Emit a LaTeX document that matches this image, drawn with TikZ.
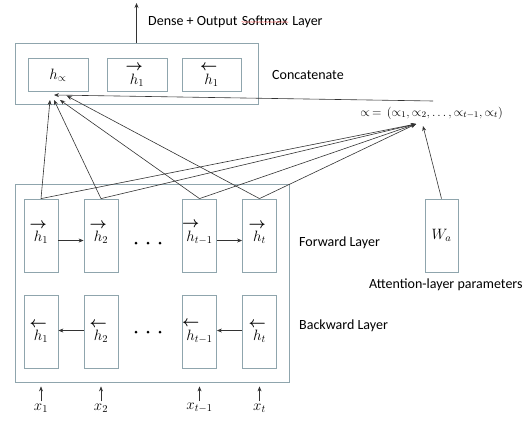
\RequirePackage{fix-cm}
\documentclass[tikz,border=0pt]{standalone}
\usepackage{amsmath}
\usepackage{fontspec}
\setmainfont{Carlito}
\usetikzlibrary{arrows.meta,calc,decorations.pathmorphing}
\newcommand\fh{\overset{\makebox[0pt]{$\boldsymbol{\rightarrow}$}}{h}}
\newcommand\bh{\overset{\makebox[0pt]{$\boldsymbol{\leftarrow}$}}{h}}
\definecolor{boxc}{HTML}{8FA5AD}
\definecolor{linec}{HTML}{333333}
\begin{document}
\begin{tikzpicture}[x=1pt,y=-1pt,
  box/.style={draw=boxc, line width=0.8pt, inner sep=0pt, font=\fontsize{15}{18}\selectfont},
  lbl/.style={font=\fontsize{14}{16}\selectfont, inner sep=0pt, anchor=west},
  mlbl/.style={font=\fontsize{15}{18}\selectfont, inner sep=0pt},
  con/.style={draw=linec, line width=0.6pt},
  arr/.style={con, -{Stealth[length=5pt,width=4pt]}}]
\useasboundingbox (0,0) rectangle (532,421);

% concatenate block
\node[box, minimum width=243, minimum height=61] (ctop) at (136.5,73.5) {};
\node[box, minimum width=60, minimum height=33] (ha) at (58,75) {$h_{\propto}$};
\node[box, minimum width=60, minimum height=33] (hf) at (137,75) {$\fh_{1}$};
\node[box, minimum width=59, minimum height=33] (hb) at (211.5,75) {$\bh_{1}$};

\node[lbl, anchor=base west] (dense) at (148,25) {Dense + Output};
\node[lbl, anchor=base west] (soft) at ([xshift=3.8pt]dense.base east) {Softmax};
\node[lbl, anchor=base west] (layer) at ([xshift=3.8pt]soft.base east) {Layer};
\draw[red!60, line width=0.35pt, decorate, decoration={snake, amplitude=0.5pt, segment length=2.2pt}]
  ([yshift=3pt]soft.base west) -- ([yshift=3pt]soft.base east);
\node[lbl] (concat) at (272,75) {Concatenate};
\coordinate (outtip) at (136.5,3);
\draw[arr] (ctop.north) -- (outtip);

% RNN block
\node[box, minimum width=274, minimum height=198] (rnn) at (152,283) {};
\foreach \n/\x in {1/41, 2/101, 3/199.5, 4/259.5}{
  \node[box, minimum width=34, minimum height=73] (f\n) at (\x,235.5) {};
  \node[box, minimum width=34, minimum height=73] (b\n) at (\x,331.5) {};
}
\node[mlbl] (fl1) at ([yshift=3pt]f1) {$\fh_{1}$};
\node[mlbl] (fl2) at ([yshift=3pt]f2) {$\fh_{2}$};
\node[mlbl] (fl3) at ([yshift=3pt]f3) {$\fh_{t-1}$};
\node[mlbl] (fl4) at ([yshift=3pt]f4) {$\fh_{t}$};
\node[mlbl] (bl1) at (b1) {$\bh_{1}$};
\node[mlbl] (bl2) at (b2) {$\bh_{2}$};
\node[mlbl] (bl3) at (b3) {$\bh_{t-1}$};
\node[mlbl] (bl4) at (b4) {$\bh_{t}$};

\draw[arr] ($(f1.east)+(0,5)$) -- ($(f2.west)+(0,5)$);
\draw[arr] ($(f3.east)+(0,5)$) -- ($(f4.west)+(0,5)$);
\draw[arr] ($(b2.west)+(0,-1)$) -- ($(b1.east)+(0,-1)$);
\draw[arr] ($(b4.west)+(0,-1)$) -- ($(b3.east)+(0,-1)$);

\foreach \x in {136,148,160}{
  \fill[black] (\x,243) circle (1.5);
  \fill[black] (\x,332) circle (1.5);
}

\node[lbl] (fwd) at (299,243) {Forward Layer};
\node[lbl] (bwd) at (299,326) {Backward Layer};

% inputs
\node[mlbl] (x1) at (41,408) {$x_1$};
\node[mlbl] (x2) at (101,408) {$x_2$};
\node[mlbl] (x3) at (199.5,408) {$x_{t-1}$};
\node[mlbl] (x4) at (259.5,408) {$x_t$};
\foreach \n in {1,...,4}{
  \draw[arr] ($(x\n.north)+(0,-2)$) -- ($(rnn.south -| x\n)+(0,4)$);
}

% attention
\node[box, minimum width=33, minimum height=73] (wa) at (441.5,235.5) {$W_a$};
\node[lbl] (attn) at (369,285) {Attention-layer parameters};
\node[mlbl, font=\fontsize{12.4}{15}\selectfont] (alpha) at (431.5,113) {$\propto\,=\,(\propto_1,\propto_2,\ldots,\propto_{t-1},\propto_t)$};

\coordinate (atip) at (416,124);
\coordinate (wtip) at (423,126);
\coordinate (aright) at (433,101);
\coordinate (ta0) at (54,95);
\coordinate (ta1) at (50,100);
\coordinate (ta2) at (54,100);
\coordinate (ta3) at (60,100);
\coordinate (ta4) at (67,96);

\draw[arr] (f1.north) -- (ta1);
\draw[arr] (f2.north) -- (ta2);
\draw[arr] (f3.north) -- (ta3);
\draw[arr] (f4.north) -- (ta4);
\foreach \n in {1,...,4}{
  \draw[arr] (f\n.north) -- (atip);
}
\draw[arr] (wa.north) -- (wtip);
\draw[arr] (aright) -- (ta0);
\end{tikzpicture}
\end{document}
